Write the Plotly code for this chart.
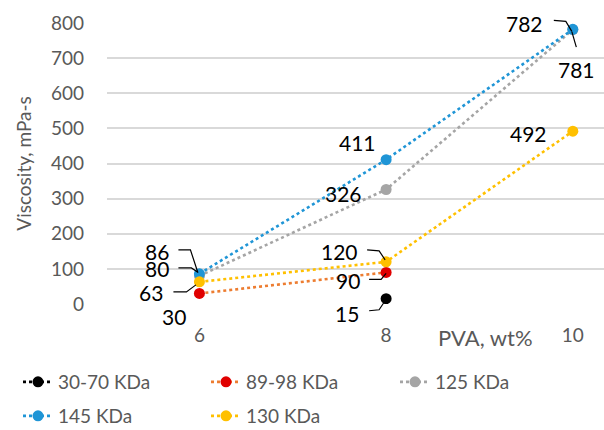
import plotly.graph_objects as go

# PVA concentration (wt%) on the x axis
pva_wt = [6, 8, 10]

# Viscosity (mPa-s) for each PVA molecular weight
visc_30_70 = [None, 15, None]
visc_89_98 = [30, 90, None]
visc_125 = [80, 326, 781]
visc_145 = [86, 411, 782]
visc_130 = [63, 120, 492]

series_names = ["30-70 KDa", "89-98 KDa", "125 KDa", "145 KDa", "130 KDa"]
series_values = [visc_30_70, visc_89_98, visc_125, visc_145, visc_130]

y_ticks = [0, 100, 200, 300, 400, 500, 600, 700, 800]

# styling per series: line colour, marker colour
line_colors = ["#000000", "#ED7D31", "#A5A5A5", "#1F95D6", "#FFC000"]
marker_colors = ["#000000", "#E00000", "#A5A5A5", "#1F95D6", "#FFC000"]

# figure geometry
W, H = 604, 430
M_L, M_R, M_T, M_B = 107, 0, 23, 126
X_RANGE = [5.01, 10.334]
Y_RANGE = [0, 800]
PLOT_W = W - M_L - M_R
PLOT_H = H - M_T - M_B

# legend grid: one legend box per entry, (left px, centre-y px)
legend_slots = [(18, 382), (206, 382), (395, 382), (18, 416), (206, 416)]

# data-label placement: pixel offset of the label centre from its point
# (screen coordinates, +y downwards) and an optional leader polyline
label_style = {
    (0, 1): dict(dx=-39, dy=15, leader=[(-17, 12), (-7, 11), (-1, 2)]),
    (1, 0): dict(dx=-25, dy=23, leader=None),
    (1, 1): dict(dx=-38, dy=8, leader=[(-17, 7), (-5, 7), (0, 1)]),
    (2, 0): dict(dx=-42, dy=-7, leader=[(-21, -8), (-8, -8), (-2, -4)]),
    (2, 1): dict(dx=-43, dy=4, leader=None),
    (2, 2): dict(dx=4, dy=40, leader=[(3.5, 17.5), (-1, 2)]),
    (3, 0): dict(dx=-42, dy=-22, leader=[(-21, -24), (-9, -24), (-1.5, -1)]),
    (3, 1): dict(dx=-29, dy=-17, leader=None),
    (3, 2): dict(dx=-48, dy=-6, leader=[(-19, -9), (-7, -8), (-1, 2)]),
    (4, 0): dict(dx=-48, dy=11, leader=[(-26, 10), (-13, 10), (-3.5, 3)]),
    (4, 1): dict(dx=-47, dy=-10, leader=[(-19, -12), (-7, -11), (-1, -2)]),
    (4, 2): dict(dx=-44, dy=2, leader=None),
}

FONT = "Lato, Carlito, Calibri, sans-serif"
GREY_TEXT = "#595959"


def to_paper(xv, yv, px, py):
    """Data point plus a pixel offset (+py downwards) -> paper coordinates."""
    xp = (xv - X_RANGE[0]) / (X_RANGE[1] - X_RANGE[0]) + px / PLOT_W
    yp = (yv - Y_RANGE[0]) / (Y_RANGE[1] - Y_RANGE[0]) - py / PLOT_H
    return xp, yp


fig = go.Figure()

for i, (name, vals, lc, mc) in enumerate(zip(series_names, series_values,
                                             line_colors, marker_colors)):
    fig.add_trace(go.Scatter(
        x=pva_wt, y=vals, name=name, mode="lines+markers",
        line=dict(color=lc, width=2.6, dash="dot"),
        marker=dict(color=mc, size=11),
        connectgaps=False,
        legend="legend" if i == 0 else f"legend{i + 1}",
    ))

annotations = []
shapes = []
for (si, ci), st in label_style.items():
    v = series_values[si][ci]
    xv = pva_wt[ci]
    annotations.append(dict(
        x=xv, y=v, xref="x", yref="y", text=str(v), showarrow=False,
        xshift=st["dx"], yshift=-st["dy"],
        font=dict(family=FONT, size=21, color="#000000"),
    ))
    if st["leader"]:
        pts = [to_paper(xv, v, px, py) for px, py in st["leader"]]
        path = "M " + " L ".join(f"{a:.5f},{b:.5f}" for a, b in pts)
        shapes.append(dict(
            type="path", xref="paper", yref="paper", path=path,
            line=dict(color="#000000", width=1.2), layer="above",
        ))

annotations.append(dict(
    x=9.06, y=0, xref="x", yref="y", text="PVA, wt%", showarrow=False,
    yshift=-33, font=dict(family=FONT, size=22, color=GREY_TEXT),
))

legends = {}
for i, (lx, ly) in enumerate(legend_slots):
    key = "legend" if i == 0 else f"legend{i + 1}"
    legends[key] = dict(
        orientation="h", xref="container", yref="container",
        x=lx / W, y=1 - ly / H, xanchor="left", yanchor="middle",
        font=dict(family=FONT, size=19, color=GREY_TEXT),
        bgcolor="rgba(0,0,0,0)",
    )

fig.update_layout(
    width=W, height=H,
    margin=dict(l=M_L, r=M_R, t=M_T, b=M_B),
    plot_bgcolor="#FFFFFF", paper_bgcolor="#FFFFFF",
    font=dict(family=FONT, size=19, color=GREY_TEXT),
    showlegend=True,
    annotations=annotations,
    shapes=shapes,
    **legends,
)

fig.update_xaxes(
    range=X_RANGE, tickvals=pva_wt, ticktext=[str(v) for v in pva_wt],
    showgrid=False, zeroline=False, showline=False, ticks="",
    ticklabelstandoff=18,
    tickfont=dict(family=FONT, size=19, color=GREY_TEXT),
)
fig.update_yaxes(
    range=Y_RANGE, tickvals=y_ticks,
    showgrid=True, gridcolor="#D9D9D9", gridwidth=1.5,
    zeroline=False, showline=False, ticks="",
    ticklabelstandoff=22,
    tickfont=dict(family=FONT, size=19, color=GREY_TEXT),
    title=dict(text="Viscosity, mPa-s", standoff=14,
               font=dict(family=FONT, size=19, color=GREY_TEXT)),
)

fig.write_html("out.html")
